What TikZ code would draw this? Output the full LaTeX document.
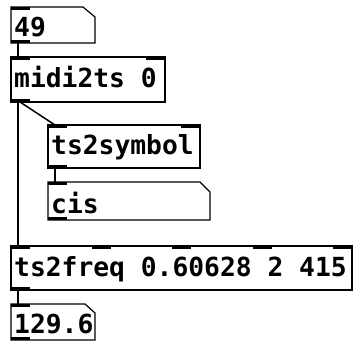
\documentclass[tikz,border=0pt]{standalone}
\usepackage{fontspec}
\setmonofont{DejaVu Sans Mono}
\begin{document}
\begin{tikzpicture}[x=1pt,y=-1pt,
  box/.style={rectangle, inner sep=0pt, outer sep=0pt, anchor=north west},
  border/.style={line width=1.2pt, line join=miter},
  lbl/.style={anchor=base west, inner sep=0pt, font=\ttfamily\bfseries\fontsize{26.3}{26}\selectfont},
  port/.style={fill=black},
  wire/.style={line width=1.5pt}]
\useasboundingbox (0,0) rectangle (353,344);
% boxes
\node[box, minimum width=84pt, minimum height=36pt] (n49) at (11,7) {};
\node[box, minimum width=154pt, minimum height=45pt] (mid) at (11,57) {};
\node[box, minimum width=152pt, minimum height=43pt] (sym) at (48,125) {};
\node[box, minimum width=162pt, minimum height=38pt] (cis) at (48,182) {};
\node[box, minimum width=341pt, minimum height=44pt] (frq) at (11,246) {};
\node[box, minimum width=84pt, minimum height=36pt] (n129) at (11,304) {};
% outlines
\draw[border] (n49.north west) -- ([xshift=-12pt]n49.north east) -- ([yshift=-10pt]n49.north east) -- (n49.south east) -- (n49.south west) -- cycle;
\draw[border] (mid.north west) rectangle (mid.south east);
\draw[border] (sym.north west) rectangle (sym.south east);
\draw[border] (cis.north west) -- ([xshift=-10pt]cis.north east) -- ([yshift=-10pt]cis.north east) -- (cis.south east) -- (cis.south west) -- cycle;
\draw[border] (frq.north west) rectangle (frq.south east);
\draw[border] (n129.north west) -- ([xshift=-10pt]n129.north east) -- ([yshift=-9pt]n129.north east) -- (n129.south east) -- (n129.south west) -- cycle;
% labels
\node[lbl] (t49) at (14,37) {49};
\node[lbl] (tmid) at (14,88) {midi2ts 0};
\node[lbl] (tsym) at (51,154.5) {ts2symbol};
\node[lbl] (tcis) at (51,214) {cis};
\node[lbl] (tfrq) at (14,277) {ts2freq 0.60628 2 415};
\node[lbl] (t129) at (14,334) {129.6};
% ports
\fill[port] (n49.north west) rectangle ++(19,3);
\fill[port] (n49.south west) rectangle ++(19,-3);
\fill[port] (mid.north west) rectangle ++(19,3);
\fill[port] (mid.north east) rectangle ++(-19,3);
\fill[port] (mid.south west) rectangle ++(19,-3);
\fill[port] (sym.north west) rectangle ++(19,3);
\fill[port] (sym.north east) rectangle ++(-19,3);
\fill[port] (sym.south west) rectangle ++(19,-3);
\fill[port] (cis.north west) rectangle ++(19,3);
\fill[port] (cis.south west) rectangle ++(19,-3);
\foreach \i in {0,1,2,3} {
  \fill[port] ([xshift={\i*80.5pt}]frq.north west) rectangle ++(19,3);
}
\fill[port] (frq.north east) rectangle ++(-19,3);
\fill[port] (frq.south west) rectangle ++(19,-3);
\fill[port] (n129.north west) rectangle ++(19,3);
\fill[port] (n129.south west) rectangle ++(19,-3);
% wires
\coordinate (o49) at ([xshift=7pt]n49.south west);
\coordinate (imid) at ([xshift=7pt]mid.north west);
\coordinate (omid) at ([xshift=7pt]mid.south west);
\coordinate (omid2) at ([xshift=9pt]mid.south west);
\coordinate (isym) at ([xshift=7pt]sym.north west);
\coordinate (osym) at ([xshift=7pt]sym.south west);
\coordinate (icis) at ([xshift=7pt]cis.north west);
\coordinate (ifrq) at ([xshift=7pt]frq.north west);
\coordinate (ofrq) at ([xshift=7pt]frq.south west);
\coordinate (i129) at ([xshift=7pt]n129.north west);
\draw[wire] (o49) -- (imid);
\draw[wire] (omid) -- (ifrq);
\draw[wire] (omid2) -- (isym);
\draw[wire] (osym) -- (icis);
\draw[wire] (ofrq) -- (i129);
\end{tikzpicture}
\end{document}
